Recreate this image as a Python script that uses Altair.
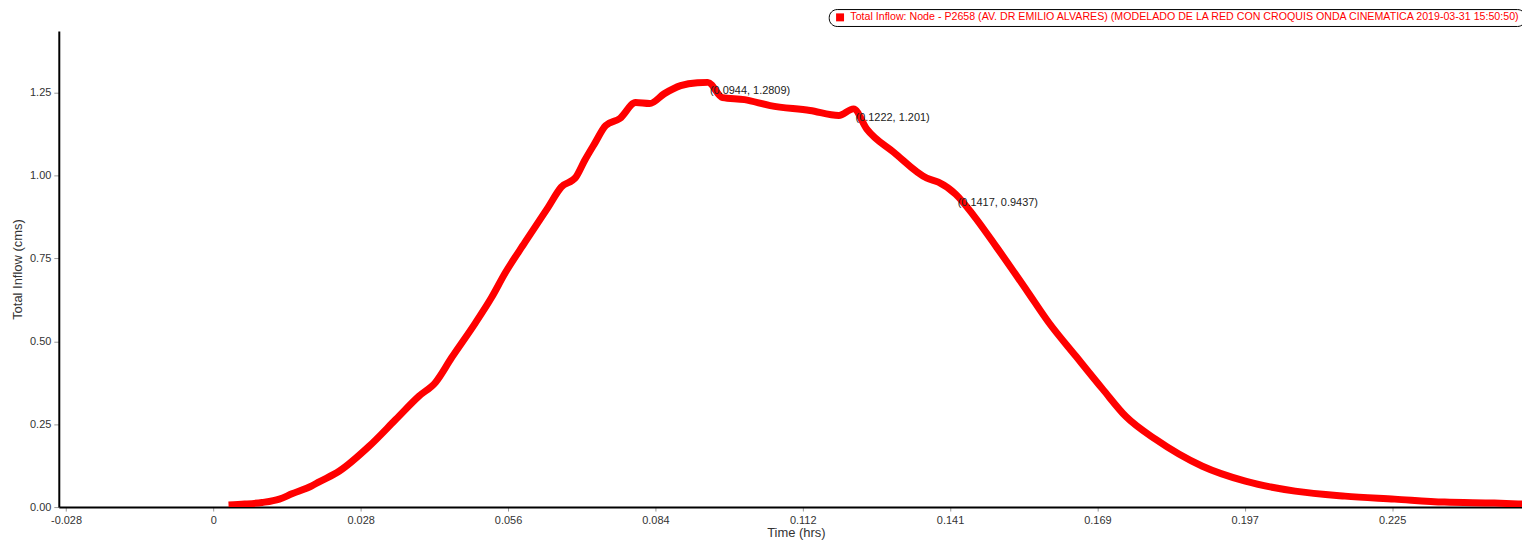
import altair as alt
import pandas as pd

# ---- data ----
time_hrs = [0.0029, 0.0060, 0.0093, 0.0126, 0.0150, 0.0188, 0.0202, 0.0240, 0.0297, 0.0348,
            0.0392, 0.0424, 0.0455, 0.0500, 0.0531, 0.0557, 0.0595, 0.0639, 0.0664, 0.0692,
            0.0709, 0.0728, 0.0749, 0.0776, 0.0806, 0.0833, 0.0861, 0.0892, 0.0924, 0.0944,
            0.0972, 0.1014, 0.1063, 0.1139, 0.1194, 0.1222, 0.1247, 0.1299, 0.1362, 0.1384,
            0.1417, 0.1451, 0.1495, 0.1552, 0.1595, 0.1647, 0.1698, 0.1742, 0.1799, 0.1888,
            0.1970, 0.2065, 0.2160, 0.2255, 0.2350, 0.2445, 0.2502]
inflow_cms = [0.006, 0.009, 0.014, 0.024, 0.040, 0.064, 0.076, 0.108, 0.183, 0.264,
              0.334, 0.376, 0.451, 0.555, 0.632, 0.706, 0.799, 0.904, 0.965, 0.995,
              1.046, 1.097, 1.151, 1.172, 1.220, 1.217, 1.247, 1.271, 1.280, 1.2809,
              1.235, 1.229, 1.211, 1.196, 1.181, 1.201, 1.141, 1.070, 0.992, 0.980,
              0.9437, 0.880, 0.784, 0.655, 0.556, 0.454, 0.355, 0.273, 0.204, 0.123,
              0.078, 0.048, 0.033, 0.024, 0.015, 0.012, 0.009]

ann_time = [0.0944, 0.1222, 0.1417]
ann_flow = [1.2809, 1.201, 0.9437]
ann_text = ["(0.0944, 1.2809)", "(0.1222, 1.201)", "(0.1417, 0.9437)"]

x_tick_step = 0.028125
x_tick_labels = ["-0.028", "0", "0.028", "0.056", "0.084", "0.112", "0.141", "0.169", "0.197", "0.225"]
y_tick_values = [0, 0.25, 0.5, 0.75, 1.0, 1.25]

series_name = ("Total Inflow: Node - P2658 (AV. DR EMILIO ALVARES) "
               "(MODELADO DE LA RED CON CROQUIS ONDA CINEMATICA 2019-03-31 15:50:50)")

# ---- tables ----
df = pd.DataFrame({"t": time_hrs, "q": inflow_cms, "series": series_name})
ann = pd.DataFrame({"t": ann_time, "q": ann_flow, "label": ann_text})

x_vals = [x_tick_step * (i - 1) for i in range(len(x_tick_labels))]
label_expr = "[" + ",".join(f"'{s}'" for s in x_tick_labels) + f"][round(datum.value/{x_tick_step})+1]"

FONT = "Liberation Sans"
xscale = alt.Scale(domain=[-0.0295, 0.2498], nice=False, zero=False)
yscale = alt.Scale(domain=[0, 1.436], nice=False, zero=False)

common_axis = dict(
    grid=False, domainColor="black", domainWidth=2, tickColor="#999999",
    labelFont=FONT, labelFontSize=11, labelColor="#333333",
    titleFont=FONT, titleFontSize=13, titleColor="#333333", titleFontWeight="normal",
    labelOverlap=False, labelFlush=False,
)

line = alt.Chart(df).mark_line(strokeWidth=7, clip=True, strokeJoin="round",
                               interpolate="monotone").encode(
    x=alt.X("t:Q", scale=xscale,
            axis=alt.Axis(values=x_vals, labelExpr=label_expr, title="Time (hrs)",
                          tickSize=4, labelPadding=3, titleX=740, titleY=30,
                          titleAlign="center", titleBaseline="alphabetic", **common_axis)),
    y=alt.Y("q:Q", scale=yscale,
            axis=alt.Axis(values=y_tick_values, format=".2f", title="Total Inflow (cms)",
                          tickSize=5, labelPadding=3, titleX=-41, titleY=239,
                          titleAngle=270, titleAlign="center", titleBaseline="middle",
                          **common_axis)),
    color=alt.Color("series:N", scale=alt.Scale(range=["#ff0000"]),
                    legend=alt.Legend(orient="none", legendX=773, legendY=-22, title=None,
                                      strokeColor="black", cornerRadius=8, padding=3,
                                      fillColor="white",
                                      symbolType="square", symbolSize=64,
                                      symbolFillColor="#ff0000", symbolStrokeColor="#ff0000",
                                      symbolStrokeWidth=0, symbolOffset=3,
                                      labelColor="#ff0000", labelFont=FONT, labelFontSize=10.7,
                                      labelLimit=0, labelOffset=5)),
)

text = alt.Chart(ann).mark_text(
    align="left", baseline="middle", dx=2, dy=9, font=FONT, fontSize=11, color="#222222"
).encode(x=alt.X("t:Q", scale=xscale), y=alt.Y("q:Q", scale=yscale), text="label:N")

chart = alt.layer(line, text).properties(
    width=1469, height=478,
    padding={"left": 51, "top": 22, "right": 0, "bottom": 32},
    autosize=alt.AutoSizeParams(type="none"),
).configure_view(stroke=None)

chart.save("out.html", embed_options={"renderer": "svg", "actions": False})
